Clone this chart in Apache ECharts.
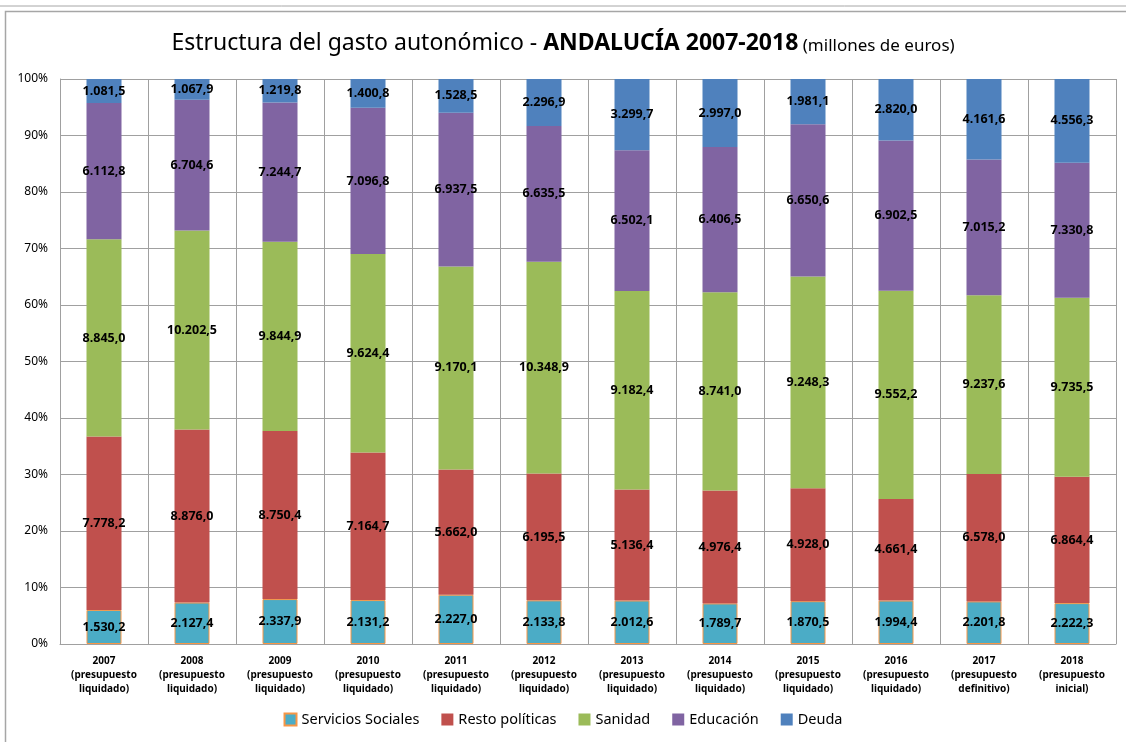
<!DOCTYPE html>
<html>
<head>
<meta charset="utf-8">
<script src="https://cdn.jsdelivr.net/npm/echarts@6/dist/echarts.min.js"></script>
<style>
  html, body { margin: 0; padding: 0; background: #fff; }
  #chart { width: 1126px; height: 742px; }
</style>
</head>
<body>
<div id="chart"></div>
<script>
// categorias (años)
const years = [
  '2007\n(presupuesto\nliquidado)', '2008\n(presupuesto\nliquidado)', '2009\n(presupuesto\nliquidado)',
  '2010\n(presupuesto\nliquidado)', '2011\n(presupuesto\nliquidado)', '2012\n(presupuesto\nliquidado)',
  '2013\n(presupuesto\nliquidado)', '2014\n(presupuesto\nliquidado)', '2015\n(presupuesto\nliquidado)',
  '2016\n(presupuesto\nliquidado)', '2017\n(presupuesto\ndefinitivo)', '2018\n(presupuesto\ninicial)'
];
// millones de euros
const serviciosSociales = [1530.2, 2127.4, 2337.9, 2131.2, 2227.0, 2133.8, 2012.6, 1789.7, 1870.5, 1994.4, 2201.8, 2222.3];
const restoPoliticas = [7778.2, 8876.0, 8750.4, 7164.7, 5662.0, 6195.5, 5136.4, 4976.4, 4928.0, 4661.4, 6578.0, 6864.4];
const sanidad = [8845.0, 10202.5, 9844.9, 9624.4, 9170.1, 10348.9, 9182.4, 8741.0, 9248.3, 9552.2, 9237.6, 9735.5];
const educacion = [6112.8, 6704.6, 7244.7, 7096.8, 6937.5, 6635.5, 6502.1, 6406.5, 6650.6, 6902.5, 7015.2, 7330.8];
const deuda = [1081.5, 1067.9, 1219.8, 1400.8, 1528.5, 2296.9, 3299.7, 2997.0, 1981.1, 2820.0, 4161.6, 4556.3];
const yTicks = ['0%', '10%', '20%', '30%', '40%', '50%', '60%', '70%', '80%', '90%', '100%'];

const chart = echarts.init(document.getElementById('chart'));

const all = [serviciosSociales, restoPoliticas, sanidad, educacion, deuda];
const totals = years.map((_, i) => all.reduce((s, arr) => s + arr[i], 0));

// formato español: 1.530,2
function fmt(v) {
  const parts = v.toFixed(1).split('.');
  return parts[0].replace(/\B(?=(\d{3})+(?!\d))/g, '.') + ',' + parts[1];
}

function makeSeries(name, arr, color, extra) {
  return Object.assign({
    name: name,
    type: 'bar',
    stack: 'total',
    barWidth: 35,
    data: arr.map((v, i) => ({ value: v / totals[i] * 100, raw: v })),
    itemStyle: { color: color },
    label: {
      show: true,
      position: 'inside',
      color: '#000',
      fontWeight: 'bold',
      fontSize: 12.5,
      fontFamily: 'Noto Sans',
      formatter: p => fmt(p.data.raw)
    }
  }, extra || {});
}

const FONT = 'Noto Sans';

const option = {
  animation: false,
  textStyle: { fontFamily: FONT },
  title: {
    left: 'center',
    top: 27,
    text: '{a|Estructura del gasto autonómico - }{b|ANDALUCÍA 2007-2018}{c| (millones de euros)}',
    textStyle: {
      fontWeight: 'normal',
      rich: {
        a: { fontSize: 23, color: '#000', fontWeight: 'normal', fontFamily: FONT },
        b: { fontSize: 23, color: '#000', fontWeight: 'bold', fontFamily: FONT },
        c: { fontSize: 17, color: '#000', fontWeight: 'normal', fontFamily: FONT, padding: [5, 0, 0, 0] }
      }
    }
  },
  graphic: [
    { type: 'line', shape: { x1: 0, y1: 6, x2: 1126, y2: 6 }, style: { stroke: '#a6a6a6', lineWidth: 1 } },
    { type: 'rect', shape: { x: 5.5, y: 11.5, width: 1130, height: 740 }, style: { fill: null, stroke: '#a6a6a6', lineWidth: 1.5 } }
  ],
  legend: {
    bottom: 10,
    left: 'center',
    itemWidth: 12,
    itemHeight: 12,
    itemGap: 22,
    icon: 'rect',
    textStyle: { fontSize: 14.5, color: '#000', fontFamily: FONT },
    data: ['Servicios Sociales', 'Resto políticas', 'Sanidad', 'Educación', 'Deuda']
  },
  grid: { left: 60, right: 10, top: 79, bottom: 98 },
  xAxis: {
    type: 'category',
    data: years,
    axisTick: { show: false },
    axisLine: { lineStyle: { color: '#a0a0a0', width: 1 } },
    splitLine: { show: true, interval: 0, lineStyle: { color: '#a0a0a0', width: 1 } },
    axisLabel: {
      interval: 0,
      color: '#000',
      fontWeight: 'bold',
      fontSize: 10,
      lineHeight: 14,
      margin: 10,
      fontFamily: FONT
    }
  },
  yAxis: {
    type: 'value',
    min: 0,
    max: 100,
    interval: 10,
    axisLine: { show: true, lineStyle: { color: '#a0a0a0' } },
    axisTick: { show: false },
    splitLine: { lineStyle: { color: '#a0a0a0', width: 1 } },
    axisLabel: {
      color: '#000',
      fontSize: 12,
      margin: 12,
      fontFamily: FONT,
      formatter: v => yTicks[Math.round(v / 10)]
    }
  },
  series: [
    makeSeries('Servicios Sociales', serviciosSociales, '#4BACC6', {
      itemStyle: { color: '#4BACC6', borderColor: '#F79646', borderWidth: 1 }
    }),
    makeSeries('Resto políticas', restoPoliticas, '#C0504D'),
    makeSeries('Sanidad', sanidad, '#9BBB59'),
    makeSeries('Educación', educacion, '#8064A2'),
    makeSeries('Deuda', deuda, '#4F81BD')
  ]
};

chart.setOption(option);
window.addEventListener('resize', function () {
  chart.resize();
});
</script>
</body>
</html>
